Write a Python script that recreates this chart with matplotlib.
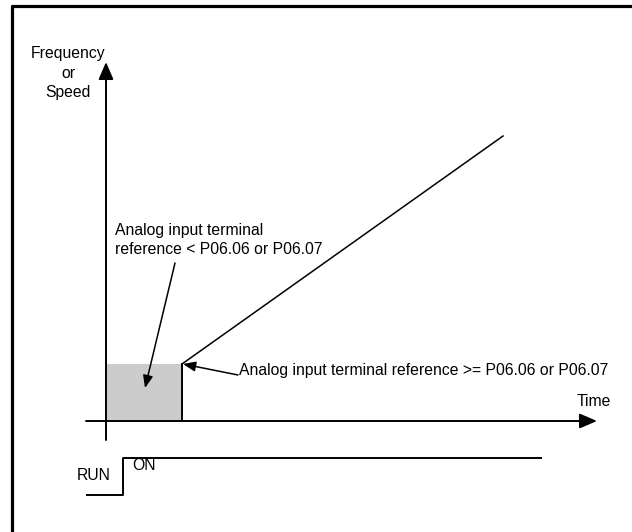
import matplotlib.pyplot as plt

# Diagram units: 1 unit ~ 1 px, origin where the two axes cross
FONT = 'Liberation Sans'
FS = 11.3

# axes of the main graph
yaxis_f = [-19, 359]
xaxis_t = [-20, 491]

# region where analog input reference is below the threshold
low_t = [0, 76]
low_f = [0, 57]

# frequency ramp after the threshold is reached
ramp_t = [76, 397]
ramp_f = [57, 285]

# RUN command signal
run_t = [-19, 17, 17, 435]
run_f = [-74, -74, -37, -37]

# outer frame (left and top edges, runs off the picture)
frame_t = [-94.5, -94.5, 700]
frame_f = [-200, 415.5, 415.5]

label_below = 'Analog input terminal\nreference < P06.06 or P06.07'
label_above = 'Analog input terminal reference >= P06.06 or P06.07'

fig = plt.figure(figsize=(6.32, 5.32), dpi=100)
ax = fig.add_axes([0, 0, 1, 1])
ax.set_xlim(-106, 526)
ax.set_ylim(-111, 421)
ax.axis('off')

ax.plot(frame_t, frame_f, color='black', lw=2.3, solid_capstyle='projecting')

# gray area + its right edge
ax.fill_between(low_t, low_f[0], low_f[1], color='#cccccc', lw=0)
ax.plot([low_t[1], low_t[1]], low_f, color='black', lw=1.4)

# ramp
ax.plot(ramp_t, ramp_f, color='black', lw=1.1)

# axes with arrows
big = dict(arrowstyle='-|>,head_length=1.05,head_width=0.45', color='black',
           lw=1.4, shrinkA=0, shrinkB=0)
ax.annotate('', xy=(0, yaxis_f[1]), xytext=(0, yaxis_f[0]), arrowprops=big)
ax.annotate('', xy=(xaxis_t[1], 0), xytext=(xaxis_t[0], 0), arrowprops=big)

# pointer arrows
small = dict(arrowstyle='-|>,head_length=0.75,head_width=0.3', color='black',
             lw=1.1, shrinkA=0, shrinkB=0)
ax.annotate('', xy=(39, 33), xytext=(69, 158), arrowprops=small)
ax.annotate('', xy=(77, 57), xytext=(132, 46), arrowprops=small)

# RUN signal
ax.plot(run_t, run_f, color='black', lw=1.4)

txt = dict(family=FONT, fontsize=FS, color='black')
ax.text(-38, 348, 'Frequency\nor\nSpeed', ha='center', va='center',
        multialignment='center', linespacing=1.4, **txt)
ax.text(488, 20, 'Time', ha='center', va='center', **txt)
ax.text(9, 181, label_below, ha='left', va='center', linespacing=1.3, **txt)
ax.text(133, 50, label_above, ha='left', va='center', **txt)
ax.text(-12, -54, 'RUN', ha='center', va='center', **txt)
ax.text(26, -44, 'ON', ha='left', va='center', **txt)

fig.savefig('out.png', dpi=100)
